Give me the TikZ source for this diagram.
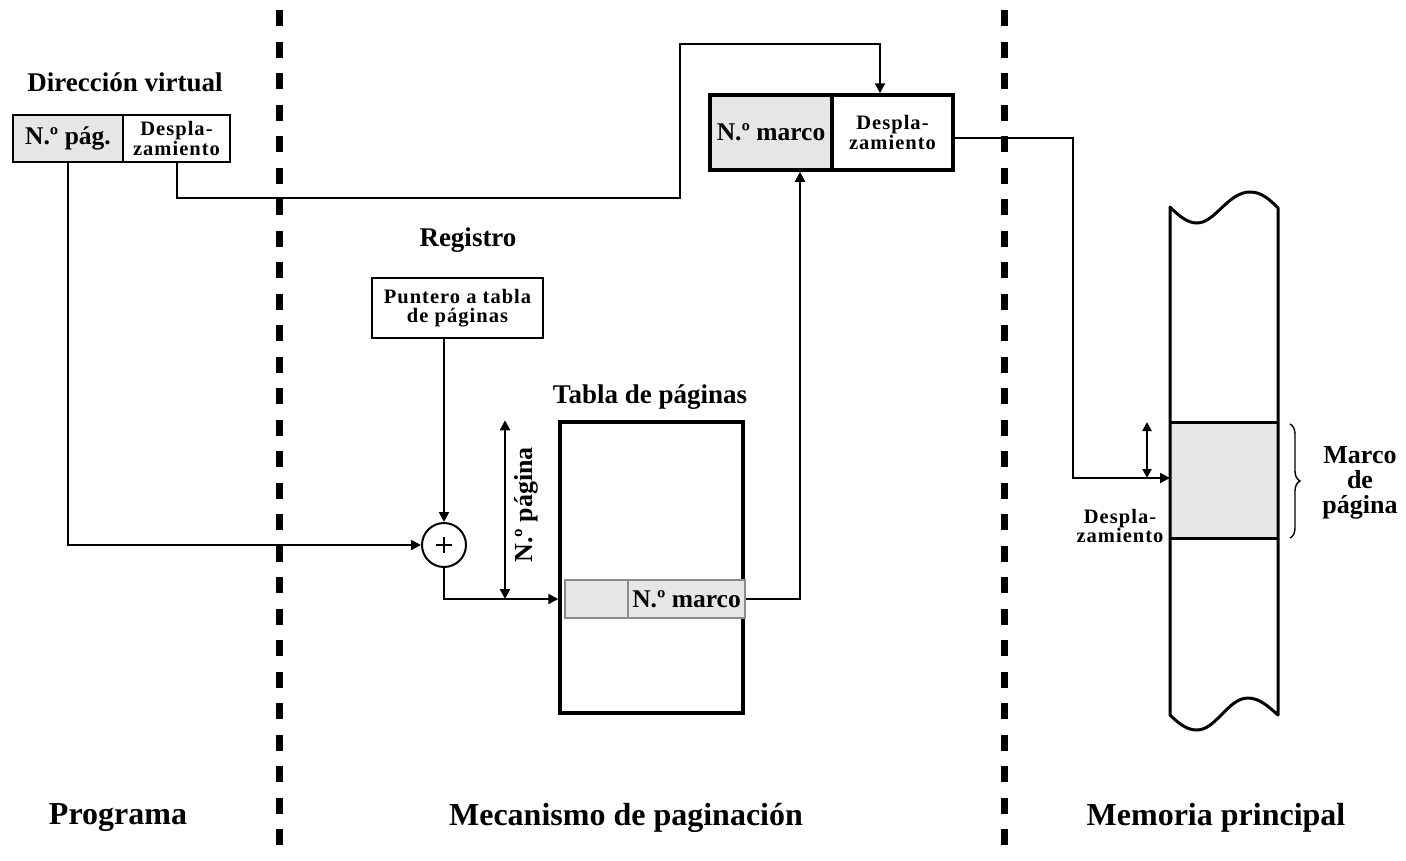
\documentclass[tikz,border=0pt]{standalone}
\usepackage{fontspec}
\setmainfont{Liberation Serif}
\usetikzlibrary{arrows.meta,decorations.pathreplacing,calc}

\definecolor{cellgrey}{HTML}{E6E6E6}
\definecolor{rowedge}{HTML}{8C8C8C}

\begin{document}
\begin{tikzpicture}[x=1pt,y=-1pt,
  every node/.style={font=\bfseries},
  conn/.style={line width=2pt},
  arr/.style={conn,-{Triangle[length=10pt,width=10pt]}},
  darr/.style={line width=2.4pt,{Triangle[length=10pt,width=10pt]}-{Triangle[length=10pt,width=10pt]}},
  cellbox/.style={draw,line width=2.5pt,inner sep=0pt,align=center},
  bigcell/.style={cellbox,line width=3.5pt},
  title/.style={font=\bfseries\fontsize{27}{29}\selectfont},
  region/.style={font=\bfseries\fontsize{32}{34}\selectfont},
  bigtxt/.style={font=\bfseries\fontsize{25.5}{25}\selectfont},
  smalltxt/.style={font=\bfseries\fontsize{20.5}{18.5}\selectfont\addfontfeature{LetterSpace=5}},
  divider/.style={line width=7pt,dash pattern=on 16pt off 15.5pt},
]
\useasboundingbox[fill=white] (0,0) rectangle (1406,860);

% section separators
\draw[divider] (279,10) -- (279,860);
\draw[divider] (1004,10) -- (1004,860);

% virtual address
\node[title] (vtitle) at (125,82) {Dirección virtual};
\node[cellbox,fill=cellgrey,minimum width=110pt,minimum height=47pt,bigtxt] (vp) at (68,138.5) {N.º pág.};
\node[cellbox,minimum width=107pt,minimum height=47pt,smalltxt] (vd) at (176.5,138.5) {Despla-\\zamiento};

% real address
\node[bigcell,fill=cellgrey,minimum width=122pt,minimum height=75pt,bigtxt] (fm) at (771,132.5) {N.º marco};
\node[bigcell,minimum width=121pt,minimum height=75pt,smalltxt] (fd) at (892.5,132.5) {Despla-\\zamiento};
\coordinate (fdout) at ($(fd.east)+(0,5)$);

% register
\node[title] (reglbl) at (468,240) {Registro};
\node[cellbox,minimum width=171pt,minimum height=60pt,smalltxt] (ptr) at (457.5,308) {Puntero a tabla\\de páginas};

% adder
\node[circle,draw,line width=2pt,minimum size=44pt,inner sep=0pt] (sum) at (444,545) {};
\draw[line width=1.8pt] ($(sum)+(-8,0)$) -- ($(sum)+(8,0)$);
\draw[line width=1.8pt] ($(sum)+(0,-8)$) -- ($(sum)+(0,8)$);

% page table
\node[title] (tablbl) at (650,397) {Tabla de páginas};
\node[draw,line width=3.5pt,minimum width=183pt,minimum height=291pt,inner sep=0pt] (tab) at (651.5,567.5) {};
\node[draw=rowedge,fill=cellgrey,line width=2.5pt,minimum width=63pt,minimum height=38pt,inner sep=0pt] (rowl) at (596.5,599) {};
\node[draw=rowedge,fill=cellgrey,line width=2.5pt,minimum width=117pt,minimum height=38pt,inner sep=0pt,bigtxt] (rowr) at (686.5,599) {N.º marco};

% page number offset
\draw[darr] (505,0 |- tab.north) -- (505,0 |- rowl.center);
\node[rotate=90,font=\bfseries\fontsize{26}{26}\selectfont] (nplbl) at (526,505) {N.º página};

% main memory
\fill[cellgrey] (1170,422) rectangle (1278,538);
\draw[line width=3pt] (1170,422) -- (1278,422);
\draw[line width=3pt] (1170,538) -- (1278,538);
\draw[line width=3pt,line join=round]
  (1170,207) -- (1170,715)
  .. controls (1180,725) and (1188,730) .. (1197,730)
  .. controls (1216,730) and (1228,698) .. (1248,698)
  .. controls (1260,698) and (1270,708) .. (1278,715)
  -- (1278,208)
  .. controls (1270,200) and (1262,192) .. (1250,192)
  .. controls (1228,192) and (1215,223) .. (1197,223)
  .. controls (1188,223) and (1180,217) .. cycle;
\coordinate (memin) at (1170,478);
\draw[decorate,decoration={brace,amplitude=10pt},line width=1.4pt] (1290,424) -- (1290,538);
\node[align=center,font=\bfseries\fontsize{26}{25}\selectfont] (mlbl) at (1360,483) {Marco\\de\\página};
\node[smalltxt,align=center,anchor=east] (memd) at (1167,526) {Despla-\\zamiento};
\draw[line width=2pt,{Triangle[length=9pt,width=9pt]}-{Triangle[length=9pt,width=9pt]}] (1147,422) -- (1147,478);

% connectors
\draw[arr] (vp.south) |- (sum.west);
\draw[arr] (vd.south) |- (680,198) |- (880,44) -- (880,0 |- fd.north);
\draw[arr] (sum.north |- ptr.south) -- (sum.north);
\draw[arr] (sum.south) |- (tab.west |- rowl.center);
\draw[arr] (rowr.east) -| (800,0 |- fm.south);
\draw[arr] (fdout) -| (1073,300) |- (memin);

% section names
\node[region] (prog) at (118,818) {Programa};
\node[region] (mech) at (626,818) {Mecanismo de paginación};
\node[region] (mem) at (1216,818) {Memoria principal};
\end{tikzpicture}
\end{document}
